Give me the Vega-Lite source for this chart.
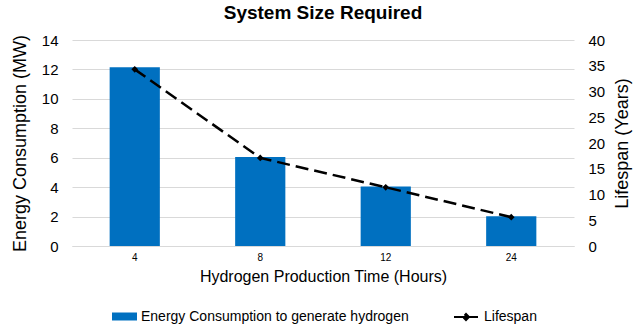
{
  "$schema": "https://vega.github.io/schema/vega-lite/v6.json",
  "width": 502,
  "height": 206,
  "autosize": {"type": "none"},
  "padding": {"left": 72, "top": 40, "right": 66, "bottom": 88},
  "background": "white",
  "title": {
    "text": "System Size Required",
    "font": "Liberation Sans",
    "fontSize": 19,
    "fontWeight": "bold",
    "color": "black",
    "anchor": "middle",
    "offset": 10
  },
  "config": {
    "font": "Liberation Sans",
    "view": {"stroke": null},
    "axis": {"labelColor": "black", "titleColor": "black", "labelFont": "Liberation Sans", "titleFont": "Liberation Sans", "titleFontWeight": "normal"},
    "legend": {"labelFont": "Liberation Sans", "labelColor": "black", "labelFontSize": 14, "padding": 0, "title": null, "labelLimit": 0}
  },
  "data": {
    "values": [
      {"hours": "4", "energy": 12.15, "lifespan": 34.3, "s1": "Energy Consumption to generate hydrogen", "s2": "Lifespan"},
      {"hours": "8", "energy": 6.05, "lifespan": 17.1, "s1": "Energy Consumption to generate hydrogen", "s2": "Lifespan"},
      {"hours": "12", "energy": 4.05, "lifespan": 11.4, "s1": "Energy Consumption to generate hydrogen", "s2": "Lifespan"},
      {"hours": "24", "energy": 2.02, "lifespan": 5.6, "s1": "Energy Consumption to generate hydrogen", "s2": "Lifespan"}
    ]
  },
  "encoding": {
    "x": {
      "field": "hours",
      "type": "ordinal",
      "sort": ["4", "8", "12", "24"],
      "scale": {"paddingInner": 0.6, "paddingOuter": 0.3},
      "axis": {
        "title": "Hydrogen Production Time (Hours)",
        "titleFontSize": 16,
        "titlePadding": 6,
        "labelFontSize": 10,
        "labelAngle": 0,
        "labelPadding": 6,
        "ticks": false,
        "domain": true,
        "domainColor": "#D9D9D9",
        "grid": false
      }
    }
  },
  "layer": [
    {
      "mark": {"type": "bar"},
      "encoding": {
        "y": {
          "field": "energy",
          "type": "quantitative",
          "scale": {"domain": [0, 14]},
          "axis": {
            "title": "Energy Consumption (MW)",
            "titleFontSize": 18,
            "titlePadding": 12,
            "labelFontSize": 15,
            "labelPadding": 14,
            "values": [0, 2, 4, 6, 8, 10, 12, 14],
            "ticks": false,
            "domain": false,
            "grid": true,
            "gridColor": "#D9D9D9"
          }
        },
        "fill": {
          "field": "s1",
          "type": "nominal",
          "scale": {"range": ["#0070C0"]},
          "legend": {
            "orient": "none",
            "legendX": 40,
            "legendY": 264,
            "symbolType": "M-1,-0.32H1V0.32H-1Z",
            "symbolSize": 625,
            "symbolStrokeWidth": 0,
            "labelOffset": 4
          }
        }
      }
    },
    {
      "mark": {"type": "line", "color": "black", "strokeWidth": 2.5, "strokeDash": [13, 6]},
      "encoding": {
        "y": {
          "field": "lifespan",
          "type": "quantitative",
          "scale": {"domain": [0, 40]},
          "axis": {
            "orient": "right",
            "title": "Lifespan (Years)",
            "titleFontSize": 18,
            "titleAngle": -90,
            "titleX": 48,
            "titleY": 103,
            "titleAlign": "center",
            "titleBaseline": "middle",
            "labelFontSize": 15,
            "labelPadding": 14,
            "values": [0, 5, 10, 15, 20, 25, 30, 35, 40],
            "ticks": false,
            "domain": false,
            "grid": false
          }
        },
        "stroke": {
          "field": "s2",
          "type": "nominal",
          "scale": {"range": ["black"]},
          "legend": {
            "orient": "none",
            "legendX": 381,
            "legendY": 264,
            "symbolType": "M-1,0H1M0,-0.25L0.25,0L0,0.25L-0.25,0Z",
            "symbolSize": 576,
            "symbolFillColor": "black",
            "symbolStrokeWidth": 2,
            "symbolDash": [12, 3],
            "labelOffset": 5
          }
        }
      }
    },
    {
      "mark": {"type": "point", "shape": "diamond", "filled": true, "color": "black", "size": 45, "opacity": 1},
      "encoding": {
        "y": {"field": "lifespan", "type": "quantitative", "scale": {"domain": [0, 40]}, "axis": null}
      }
    }
  ],
  "resolve": {"scale": {"y": "independent"}}
}
